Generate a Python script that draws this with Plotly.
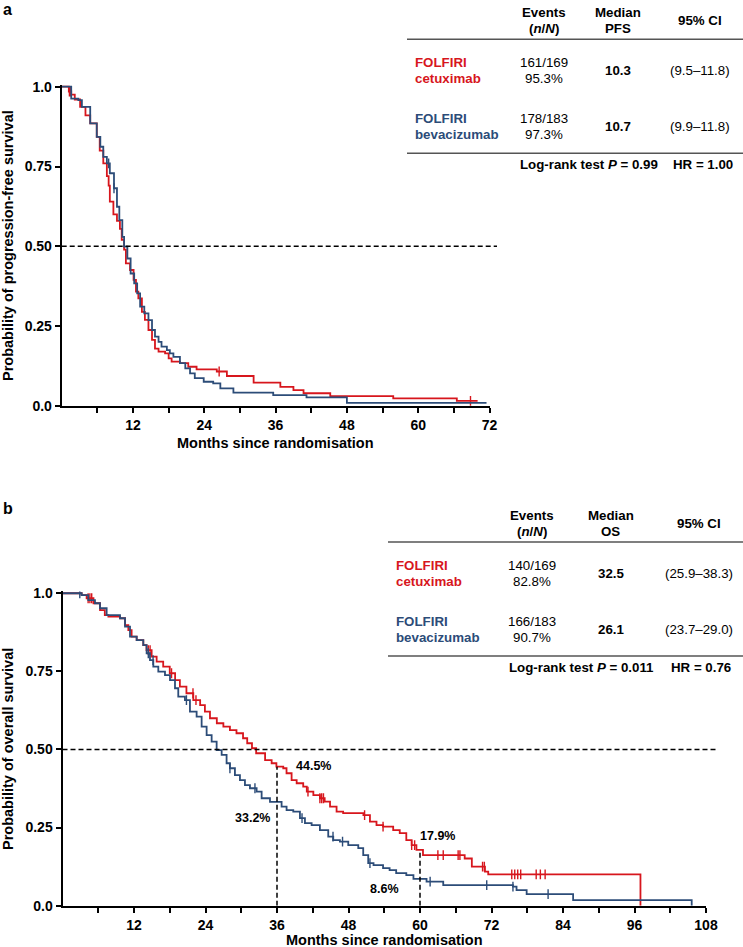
import numpy as np
import plotly.graph_objects as go

W, H = 743, 947
RED = "#d7161d"
BLUE = "#2c4c78"
FONT = "Liberation Sans"

# ---------------- Data: PFS (panel a) ----------------
red_pfs_t = [0, 1.2, 1.6, 2.2, 3.1, 4.0, 4.8, 5.9, 6.4, 7.0, 7.6, 7.9, 8.1, 8.7, 9.3, 9.8, 10.1, 10.5,
             10.8, 11.5, 12.1, 12.5, 12.9, 13.5, 14.0, 14.6, 15.2, 15.7, 16.3, 17.4, 18.0, 18.5, 19.9,
             21.3, 22.7, 26.1, 27.8, 32.3, 36.8, 39.0, 40.7, 45.2, 55.8, 66.5, 70.0]
red_pfs_s = [1.0, 0.985, 0.975, 0.96, 0.937, 0.91, 0.885, 0.843, 0.80, 0.76, 0.72, 0.69, 0.64, 0.60,
             0.58, 0.555, 0.52, 0.49, 0.447, 0.426, 0.395, 0.358, 0.337, 0.295, 0.27, 0.238, 0.207,
             0.18, 0.17, 0.165, 0.149, 0.139, 0.134, 0.123, 0.115, 0.108, 0.094, 0.073, 0.06, 0.05,
             0.04, 0.031, 0.024, 0.016, 0.016]
red_pfs_cens = [1.3, 1.5, 26.5, 68.8]

blue_pfs_t = [0, 1.6, 2.8, 3.4, 4.8, 5.9, 6.5, 7.0, 7.6, 8.1, 8.8, 9.3, 9.7, 10.2, 10.5, 11.05, 11.6,
              12.2, 12.7, 13.2, 13.9, 14.6, 15.2, 15.7, 16.3, 16.8, 17.7, 18.2, 18.8, 19.9, 20.8, 21.6,
              22.4, 23.9, 25.5, 26.7, 28.9, 35.6, 41.2, 48.0, 71.5]
blue_pfs_s = [1.0, 0.963, 0.958, 0.937, 0.885, 0.843, 0.812, 0.78, 0.76, 0.729, 0.682, 0.624, 0.582,
              0.53, 0.499, 0.462, 0.415, 0.384, 0.353, 0.311, 0.29, 0.269, 0.238, 0.217, 0.201, 0.186,
              0.175, 0.165, 0.154, 0.134, 0.118, 0.102, 0.087, 0.076, 0.071, 0.055, 0.042, 0.034,
              0.027, 0.01, 0.01]
blue_pfs_cens = [7.9, 8.8]

# ---------------- Data: OS (panel b) ----------------
red_os_t = [0, 3.2, 4.05, 5.2, 6.3, 7.1, 7.7, 9.65, 10.5, 11.05, 11.6, 12.45, 13.56, 14.1, 14.96, 15.8,
            16.9, 18.0, 18.9, 19.7, 20.8, 21.95, 23.1, 23.9, 24.75, 25.9, 27.0, 28.1, 29.2, 30.3, 31.0,
            31.8, 32.5, 34.0, 35.1, 35.9, 37.05, 37.6, 38.45, 39.3, 40.4, 41.0, 42.1, 43.2, 44.0, 44.9,
            46.0, 47.1, 50.5, 51.6, 52.7, 53.8, 55.5, 56.6, 57.7, 58.6, 59.4, 60.5, 67.5, 68.7, 70.9,
            71.45, 97.0]
red_os_s = [1.0, 0.994, 0.984, 0.968, 0.946, 0.930, 0.925, 0.92, 0.898, 0.882, 0.861, 0.85, 0.834,
            0.818, 0.797, 0.781, 0.765, 0.744, 0.722, 0.701, 0.68, 0.658, 0.642, 0.621, 0.60, 0.584,
            0.573, 0.562, 0.552, 0.536, 0.52, 0.504, 0.488, 0.466, 0.456, 0.445, 0.44, 0.424, 0.402,
            0.392, 0.381, 0.365, 0.354, 0.344, 0.333, 0.317, 0.301, 0.296, 0.29, 0.269, 0.258, 0.253,
            0.242, 0.232, 0.21, 0.194, 0.179, 0.162, 0.151, 0.125, 0.109, 0.10, 0.0]
red_os_cens = [4.3, 4.6, 4.9, 14.4, 14.7, 18.3, 21.9, 22.4, 41.2, 43.2, 43.5, 43.8, 50.7, 53.8, 58.6,
               59.1, 63.0, 63.9, 66.4, 66.7, 70.5, 70.8, 75.4, 75.9, 76.4, 76.9, 79.5, 80.2, 81.0]

blue_os_t = [0, 3.22, 4.33, 5.45, 6.29, 7.41, 9.65, 10.49, 11.33, 12.45, 13.56, 14.12, 14.68, 15.24,
             16.08, 17.2, 18.04, 18.88, 19.43, 20.55, 21.39, 22.51, 23.35, 24.19, 25.03, 25.87, 26.71,
             27.54, 28.1, 28.94, 29.78, 30.62, 31.46, 32.58, 33.42, 34.82, 36.77, 37.61, 38.73, 39.85,
             40.69, 41.81, 43.2, 44.6, 45.44, 46.56, 47.96, 49.64, 50.47, 51.31, 52.2, 53.8, 54.9,
             56.0, 57.7, 58.9, 61.1, 63.9, 75.6, 76.2, 77.9, 85.7, 105.6]
blue_os_s = [1.0, 0.994, 0.978, 0.968, 0.952, 0.93, 0.92, 0.893, 0.861, 0.85, 0.834, 0.808, 0.786,
             0.765, 0.749, 0.738, 0.722, 0.696, 0.669, 0.658, 0.621, 0.605, 0.573, 0.546, 0.525,
             0.498, 0.483, 0.456, 0.44, 0.418, 0.402, 0.386, 0.376, 0.365, 0.344, 0.332, 0.317,
             0.306, 0.301, 0.28, 0.264, 0.258, 0.242, 0.221, 0.21, 0.205, 0.194, 0.184, 0.162, 0.136,
             0.13, 0.12, 0.114, 0.104, 0.098, 0.086, 0.077, 0.066, 0.061, 0.05, 0.037, 0.018, 0.0]
blue_os_cens = [2.9, 14.4, 15.2, 20.8, 28.1, 32.3, 40.2, 45.4, 47.0, 51.6, 61.7, 71.2, 75.6, 81.5]

# landmark annotations (panel b)
landmark_t = [36, 60]
landmark_red = [0.445, 0.179]
landmark_blue = [0.332, 0.086]

# tables
tab_a = {
    "header": ["Events", "Median", "95% CI"],
    "arm1": ["FOLFIRI", "cetuximab", "161/169", "95.3%", "10.3", "(9.5–11.8)"],
    "arm2": ["FOLFIRI", "bevacizumab", "178/183", "97.3%", "10.7", "(9.9–11.8)"],
    "foot": ["Log-rank test <i>P</i> = 0.99", "HR = 1.00"],
    "endpoint": "PFS",
}
tab_b = {
    "header": ["Events", "Median", "95% CI"],
    "arm1": ["FOLFIRI", "cetuximab", "140/169", "82.8%", "32.5", "(25.9–38.3)"],
    "arm2": ["FOLFIRI", "bevacizumab", "166/183", "90.7%", "26.1", "(23.7–29.0)"],
    "foot": ["Log-rank test <i>P</i> = 0.011", "HR = 0.76"],
    "endpoint": "OS",
}

y_tickvals = [0, 0.25, 0.5, 0.75, 1.0]
y_ticktext = ["0.0", "0.25", "0.50", "0.75", "1.0"]


def px(x):
    return x / W


def py(y):
    return 1 - y / H


def step_lookup(ts, ss, c):
    ts = np.asarray(ts)
    i = np.searchsorted(ts, c, side="right") - 1
    return float(np.asarray(ss)[i])


fig = go.Figure()


def add_curve(t, s, cens, color, xa, ya):
    fig.add_trace(go.Scatter(x=t, y=s, mode="lines", line=dict(color=color, width=1.8, shape="hv"),
                             xaxis=xa, yaxis=ya, showlegend=False, hoverinfo="skip"))
    cy = [step_lookup(t, s, c) for c in cens]
    fig.add_trace(go.Scatter(x=cens, y=cy, mode="markers",
                             marker=dict(symbol="line-ns", size=7, line=dict(color=color, width=1.4)),
                             xaxis=xa, yaxis=ya, showlegend=False, hoverinfo="skip"))


add_curve(red_pfs_t, red_pfs_s, red_pfs_cens, RED, "x", "y")
add_curve(blue_pfs_t, blue_pfs_s, blue_pfs_cens, BLUE, "x", "y")
add_curve(red_os_t, red_os_s, red_os_cens, RED, "x2", "y2")
add_curve(blue_os_t, blue_os_s, blue_os_cens, BLUE, "x2", "y2")

tickfont = dict(family=FONT, size=14, color="black", weight="bold")
axis_common = dict(showline=True, linecolor="black", linewidth=2, ticks="outside", ticklen=5,
                   tickwidth=1.5, tickcolor="black", showgrid=False, zeroline=False, tickfont=tickfont,
                   fixedrange=True, automargin=False)

fig.update_layout(
    template="none",
    width=W, height=H, margin=dict(l=0, r=0, t=0, b=0, autoexpand=False),
    paper_bgcolor="white", plot_bgcolor="white",
    xaxis=dict(domain=[px(61.7), px(489.5)], range=[0, 72], anchor="y",
               tickvals=[12, 24, 36, 48, 60, 72],
               minor=dict(tickvals=[6, 18, 30, 42, 54, 66], ticks="outside", ticklen=5, tickwidth=1.5,
                          tickcolor="black"), **axis_common),
    yaxis=dict(domain=[py(406), py(84.8)], range=[0, 1.006], anchor="x",
               tickvals=y_tickvals, ticktext=y_ticktext, **axis_common),
    xaxis2=dict(domain=[px(62.5), px(706)], range=[0, 108], anchor="y2",
                tickvals=[12, 24, 36, 48, 60, 72, 84, 96, 108],
                minor=dict(tickvals=[6, 18, 30, 42, 54, 66, 78, 90, 102], ticks="outside", ticklen=5,
                           tickwidth=1.5, tickcolor="black"), **axis_common),
    yaxis2=dict(domain=[py(905.7), py(591.4)], range=[0, 1.006], anchor="x2",
                tickvals=y_tickvals, ticktext=y_ticktext, **axis_common),
)

shapes = []
dash = dict(color="black", width=1.5, dash="5px,3px")
shapes.append(dict(type="line", xref="paper", yref="y", x0=px(61.7), x1=px(497), y0=0.5, y1=0.5, line=dash))
shapes.append(dict(type="line", xref="paper", yref="y2", x0=px(62.5), x1=px(718), y0=0.5, y1=0.5, line=dash))
for t, v in zip(landmark_t, landmark_red):
    shapes.append(dict(type="line", xref="x2", yref="y2", x0=t, x1=t, y0=0, y1=v, line=dash))

ann = []


def text(x, y, s, size=13.3, bold=False, color="black", anchor="center", angle=0):
    ann.append(dict(x=px(x), y=py(y), xref="paper", yref="paper", text=s, showarrow=False,
                    xanchor=anchor, yanchor="middle", textangle=angle,
                    font=dict(family=FONT, size=size, color=color, weight="bold" if bold else "normal")))


# axis titles
text(275.6, 443, "Months since randomisation", size=14.5, bold=True)
text(384.2, 940, "Months since randomisation", size=14.5, bold=True)
text(8, 246, "Probability of progression-free survival", size=14.5, bold=True, angle=-90)
text(8, 749, "Probability of overall survival", size=14.5, bold=True, angle=-90)

# panel labels
text(1, 9, "a", size=16, bold=True, anchor="left")
text(1, 508, "b", size=16, bold=True, anchor="left")


def table(tab, y0, xl, xe, xm, xc, xfoot1, xfoot2, line_x0):
    h = tab["header"]
    text(xe, y0, h[0], bold=True)
    text(xe, y0 + 16.5, "(<i>n</i>/<i>N</i>)", bold=True)
    text(xm, y0, h[1], bold=True)
    text(xm, y0 + 16.5, tab["endpoint"], bold=True)
    text(xc, y0 + 8, h[2], bold=True)
    shapes.append(dict(type="line", xref="paper", yref="paper", x0=px(line_x0), x1=1,
                       y0=py(y0 + 27), y1=py(y0 + 27), line=dict(color="#555555", width=1.5)))
    for arm, color, yy in ((tab["arm1"], RED, y0 + 50), (tab["arm2"], BLUE, y0 + 106)):
        text(xl, yy, arm[0], bold=True, color=color, anchor="left")
        text(xl, yy + 16.5, arm[1], bold=True, color=color, anchor="left")
        text(xe, yy, arm[2])
        text(xe, yy + 16.5, arm[3])
        text(xm, yy + 8.5, arm[4], bold=True)
        text(xc, yy + 8.5, arm[5])
    shapes.append(dict(type="line", xref="paper", yref="paper", x0=px(line_x0), x1=1,
                       y0=py(y0 + 141), y1=py(y0 + 141), line=dict(color="#555555", width=1.5)))
    text(xfoot1, y0 + 152, tab["foot"][0], bold=True)
    text(xfoot2, y0 + 152, tab["foot"][1], bold=True)


table(tab_a, 12.3, 413, 543.5, 618, 700, 589, 703, 407)
table(tab_b, 515, 394, 532.3, 610.7, 699, 581, 701, 388)

# landmark percentage labels
text(313, 766, f"{landmark_red[0]*100:.1f}%", size=12.5, bold=True)
text(252, 818, f"{landmark_blue[0]*100:.1f}%", size=12.5, bold=True)
text(437, 836, f"{landmark_red[1]*100:.1f}%", size=12.5, bold=True)
text(384.5, 889, f"{landmark_blue[1]*100:.1f}%", size=12.5, bold=True)

fig.update_layout(shapes=shapes, annotations=ann)
fig.write_html("out.html", config={"displayModeBar": False},
               post_script="document.body.style.margin='0';document.body.style.overflow='hidden';")
